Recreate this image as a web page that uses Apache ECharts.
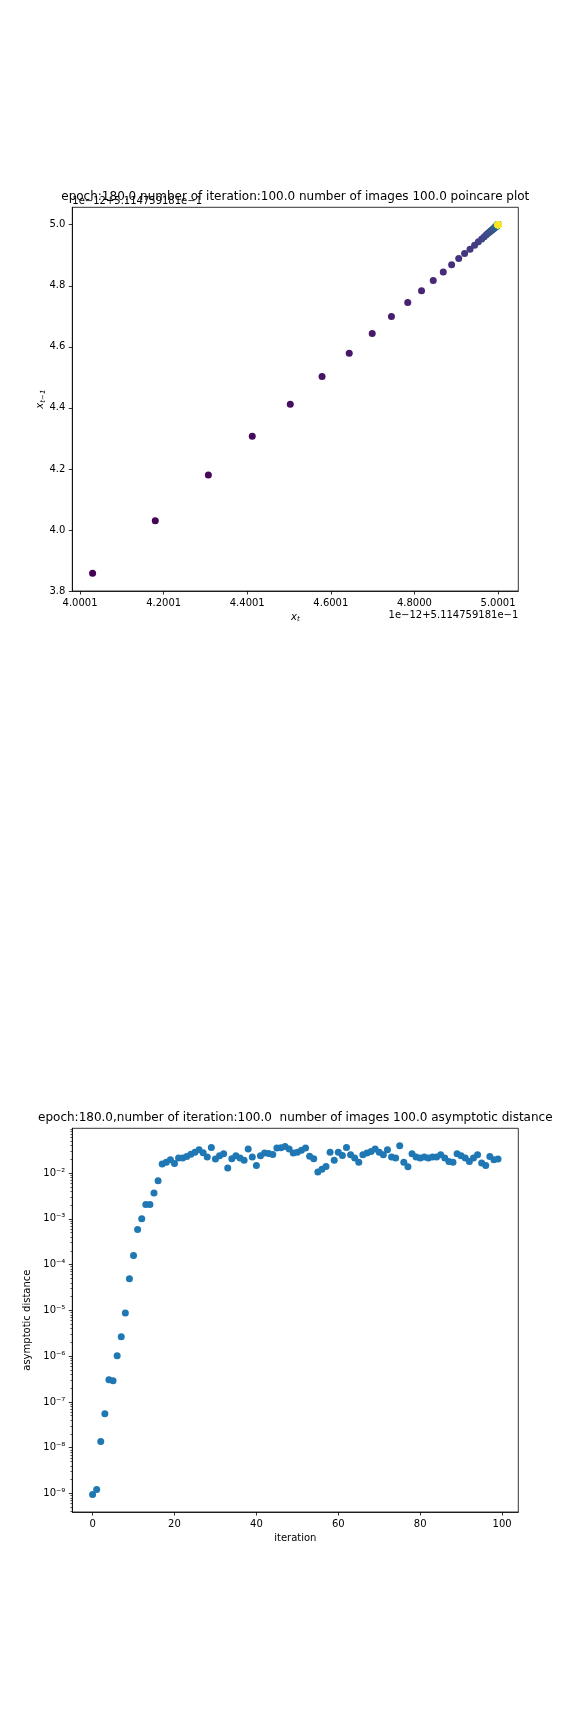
<!DOCTYPE html>
<html><head><meta charset="utf-8">
<script src="https://cdn.jsdelivr.net/npm/echarts@6/dist/echarts.min.js"></script>
<style>html,body{margin:0;padding:0;background:#fff}#c{width:576px;height:1728px}</style>
</head><body><div id="c"></div>
<script>
// ---- Poincare plot: sequence x_t (offset units, 1e-12 + 5.114759181e-1) ----
const seq = [
  3.858, 4.030, 4.180, 4.307, 4.412, 4.503, 4.579, 4.644, 4.699, 4.745,
  4.784, 4.817, 4.845, 4.869, 4.889, 4.906, 4.920, 4.933, 4.944, 4.953,
  4.961, 4.967, 4.972, 4.976, 4.980, 4.983, 4.986, 4.988, 4.990, 4.992,
  4.993, 4.994, 4.995, 4.996, 4.997, 4.997, 4.998, 4.998, 4.998, 4.999,
  4.999, 4.999, 4.999, 4.999, 5.000, 5.000, 5.000, 5.000, 5.000, 5.000,
  5.000, 5.000, 5.000, 5.000, 5.000, 5.000, 5.000, 5.000, 5.000, 5.000,
  5.000, 5.000, 5.000, 5.000, 5.000, 5.000, 5.000, 5.000, 5.000, 5.000,
  5.000, 5.000, 5.000, 5.000, 5.000, 5.000, 5.000, 5.000, 5.000, 5.000,
  5.000, 5.000, 5.000, 5.000, 5.000, 5.000, 5.000, 5.000, 5.000, 5.000,
  5.000, 5.000, 5.000, 5.000, 5.000, 5.000, 5.000, 5.000, 5.000, 5.000
];
const xtTickValues = [4.0, 4.2, 4.4, 4.6, 4.8, 5.0];
const xtTickLabels = ['4.0001', '4.2001', '4.4001', '4.6001', '4.8000', '5.0001'];
const xt1TickValues = [3.8, 4.0, 4.2, 4.4, 4.6, 4.8, 5.0];
const xt1TickLabels = ['3.8', '4.0', '4.2', '4.4', '4.6', '4.8', '5.0'];
const offsetText = '1e\u221212+5.114759181e\u22121';
const viridis = ['#440154','#482475','#414487','#355f8d','#2a788e','#21918c','#22a884','#44bf70','#7ad151','#bddf26','#fde725'];

// ---- Asymptotic distance ----
const dist = [
  0.95e-9, 1.22e-9, 1.36e-8, 5.5e-8, 3.05e-7, 2.9e-7, 1.02e-6, 2.65e-6, 8.8e-6, 4.9e-5,
  1.57e-4, 5.8e-4, 1.0e-3, 2.04e-3, 2.04e-3, 3.66e-3, 6.8e-3, 0.0157, 0.0172, 0.0195,
  0.0162, 0.0212, 0.0213, 0.0230, 0.0255, 0.0285, 0.0322, 0.0275, 0.0223, 0.0362,
  0.0202, 0.0238, 0.0264, 0.0129, 0.0205, 0.0238, 0.0212, 0.0190, 0.0334, 0.0223,
  0.0145, 0.0238, 0.0272, 0.0265, 0.0252, 0.0350, 0.0355, 0.0380, 0.0334, 0.0272,
  0.0282, 0.0312, 0.0350, 0.0232, 0.0205, 0.0105, 0.0121, 0.0139, 0.0282, 0.0190,
  0.0282, 0.0242, 0.0362, 0.0250, 0.0212, 0.0172, 0.0250, 0.0272, 0.0296, 0.0332,
  0.0282, 0.0250, 0.0322, 0.0223, 0.0212, 0.0394, 0.0172, 0.0136, 0.0264, 0.0223,
  0.0212, 0.0223, 0.0212, 0.0223, 0.0223, 0.0251, 0.0212, 0.0179, 0.0172, 0.0264,
  0.0238, 0.0212, 0.0179, 0.0212, 0.0251, 0.0165, 0.0145, 0.0230, 0.0195, 0.0202
];
const iterTickValues = [0, 20, 40, 60, 80, 100];
const logTickValues = [1e-9, 1e-8, 1e-7, 1e-6, 1e-5, 1e-4, 1e-3, 1e-2];
const logTickLabels = ['10\u207b\u2079','10\u207b\u2078','10\u207b\u2077','10\u207b\u2076','10\u207b\u2075','10\u207b\u2074','10\u207b\u00b3','10\u207b\u00b2'];
const minorMantissas = [2, 3, 4, 5, 6, 7, 8, 9];
const minorDecades = [1e-10, 1e-9, 1e-8, 1e-7, 1e-6, 1e-5, 1e-4, 1e-3, 1e-2];

const FONT = 'DejaVu Sans';
const poincareData = [];
for (let t = 1; t < seq.length; t++) poincareData.push([seq[t], seq[t - 1], t - 1]);
const distData = dist.map((v, i) => [i, v]);
const minorTicks = [];
minorDecades.forEach(d => minorMantissas.forEach(m => minorTicks.push(m * d)));

function pick(vals, labels, tol) {
  return function (v) {
    for (let i = 0; i < vals.length; i++) if (Math.abs(vals[i] - v) <= tol(vals[i])) return labels[i];
    return '';
  };
}
const axisCommon = {
  axisLine: { show: true, onZero: false, lineStyle: { color: '#000', width: 0.8 } },
  axisTick: { show: true, length: 3.5, lineStyle: { color: '#000', width: 0.8 } },
  splitLine: { show: false }
};
const lblCommon = { fontSize: 10, color: '#000', fontFamily: FONT, margin: 7 };

const G0 = { left: 72.3, top: 207.3, width: 446, height: 383.7 };
const G1 = { left: 72.3, top: 1128.3, width: 446, height: 383.7 };

const option = {
  backgroundColor: '#fff',
  animation: false,
  grid: [
    Object.assign({ show: true, borderColor: '#000', borderWidth: 0.8, backgroundColor: 'transparent' }, G0),
    Object.assign({ show: true, borderColor: '#000', borderWidth: 0.8, backgroundColor: 'transparent' }, G1)
  ],
  xAxis: [
    Object.assign({}, axisCommon, {
      type: 'value', gridIndex: 0, min: 3.9815, max: 5.0485, position: 'bottom',
      axisTick: Object.assign({}, axisCommon.axisTick, { customValues: xtTickValues }),
      axisLabel: Object.assign({}, lblCommon, { customValues: xtTickValues, formatter: pick(xtTickValues, xtTickLabels, () => 1e-6) }),
      name: '{v|x}{s|t}', nameLocation: 'middle', nameGap: 20,
      nameTextStyle: { rich: { v: { fontSize: 10, fontStyle: 'italic', fontFamily: FONT, color: '#000' }, s: { fontSize: 7, fontStyle: 'italic', fontFamily: FONT, color: '#000', padding: [5, 0, 0, 0] } } }
    }),
    Object.assign({}, axisCommon, {
      type: 'value', gridIndex: 1, min: -4.95, max: 103.95, position: 'bottom',
      axisTick: Object.assign({}, axisCommon.axisTick, { customValues: iterTickValues }),
      axisLabel: Object.assign({}, lblCommon, { customValues: iterTickValues }),
      name: 'iteration', nameLocation: 'middle', nameGap: 21,
      nameTextStyle: { fontSize: 10, fontFamily: FONT, color: '#000' }
    })
  ],
  yAxis: [
    Object.assign({}, axisCommon, {
      type: 'value', gridIndex: 0, min: 3.8, max: 5.0571, position: 'left',
      axisTick: Object.assign({}, axisCommon.axisTick, { customValues: xt1TickValues }),
      axisLabel: Object.assign({}, lblCommon, { customValues: xt1TickValues, formatter: pick(xt1TickValues, xt1TickLabels, () => 1e-6) }),
      name: '{v|x}{s|t\u22121}', nameLocation: 'middle', nameGap: 26, nameRotate: 90, nameMoveOverlap: false,
      nameTextStyle: { rich: { v: { fontSize: 10, fontStyle: 'italic', fontFamily: FONT, color: '#000' }, s: { fontSize: 7, fontStyle: 'italic', fontFamily: FONT, color: '#000', padding: [5, 0, 0, 0] } } }
    }),
    Object.assign({}, axisCommon, {
      type: 'log', logBase: 10, gridIndex: 1, min: 3.95e-10, max: 0.0946, position: 'left',
      axisTick: Object.assign({}, axisCommon.axisTick, { customValues: logTickValues }),
      axisLabel: Object.assign({}, lblCommon, { customValues: logTickValues, formatter: pick(logTickValues, logTickLabels, v => v * 1e-6) }),
      name: 'asymptotic distance', nameLocation: 'middle', nameGap: 38, nameRotate: 90,
      nameTextStyle: { fontSize: 10, fontFamily: FONT, color: '#000' }
    }),
    {
      type: 'log', logBase: 10, gridIndex: 1, min: 3.95e-10, max: 0.0946, position: 'left',
      axisLine: { show: false, onZero: false },
      splitLine: { show: false },
      axisTick: { show: true, length: 2, customValues: minorTicks, lineStyle: { color: '#000', width: 0.6 } },
      axisLabel: { show: false }
    }
  ],
  visualMap: {
    type: 'continuous', show: false, seriesIndex: 0, dimension: 2, min: 0, max: 98,
    inRange: { color: viridis }
  },
  series: [
    { type: 'scatter', xAxisIndex: 0, yAxisIndex: 0, data: poincareData, symbolSize: 7, itemStyle: { opacity: 1 } },
    { type: 'scatter', xAxisIndex: 1, yAxisIndex: 1, data: distData, symbolSize: 7, itemStyle: { color: '#1f77b4', opacity: 1 } }
  ],
  graphic: [
    { type: 'text', x: 295.3, y: 197, style: { text: 'epoch:180.0 number of iteration:100.0 number of images 100.0 poincare plot', fontSize: 12, fontFamily: FONT, fill: '#000', align: 'center', verticalAlign: 'middle' } },
    { type: 'text', x: 72.3, y: 201.5, style: { text: offsetText, fontSize: 10, fontFamily: FONT, fill: '#000', align: 'left', verticalAlign: 'middle' } },
    { type: 'text', x: 518.3, y: 615, style: { text: offsetText, fontSize: 10, fontFamily: FONT, fill: '#000', align: 'right', verticalAlign: 'middle' } },
    { type: 'text', x: 295.3, y: 1117.5, style: { text: 'epoch:180.0,number of iteration:100.0  number of images 100.0 asymptotic distance', fontSize: 12, fontFamily: FONT, fill: '#000', align: 'center', verticalAlign: 'middle' } }
  ]
};
const chart = echarts.init(document.getElementById('c'), null, { renderer: 'canvas' });
chart.setOption(option);
</script>
</body></html>
